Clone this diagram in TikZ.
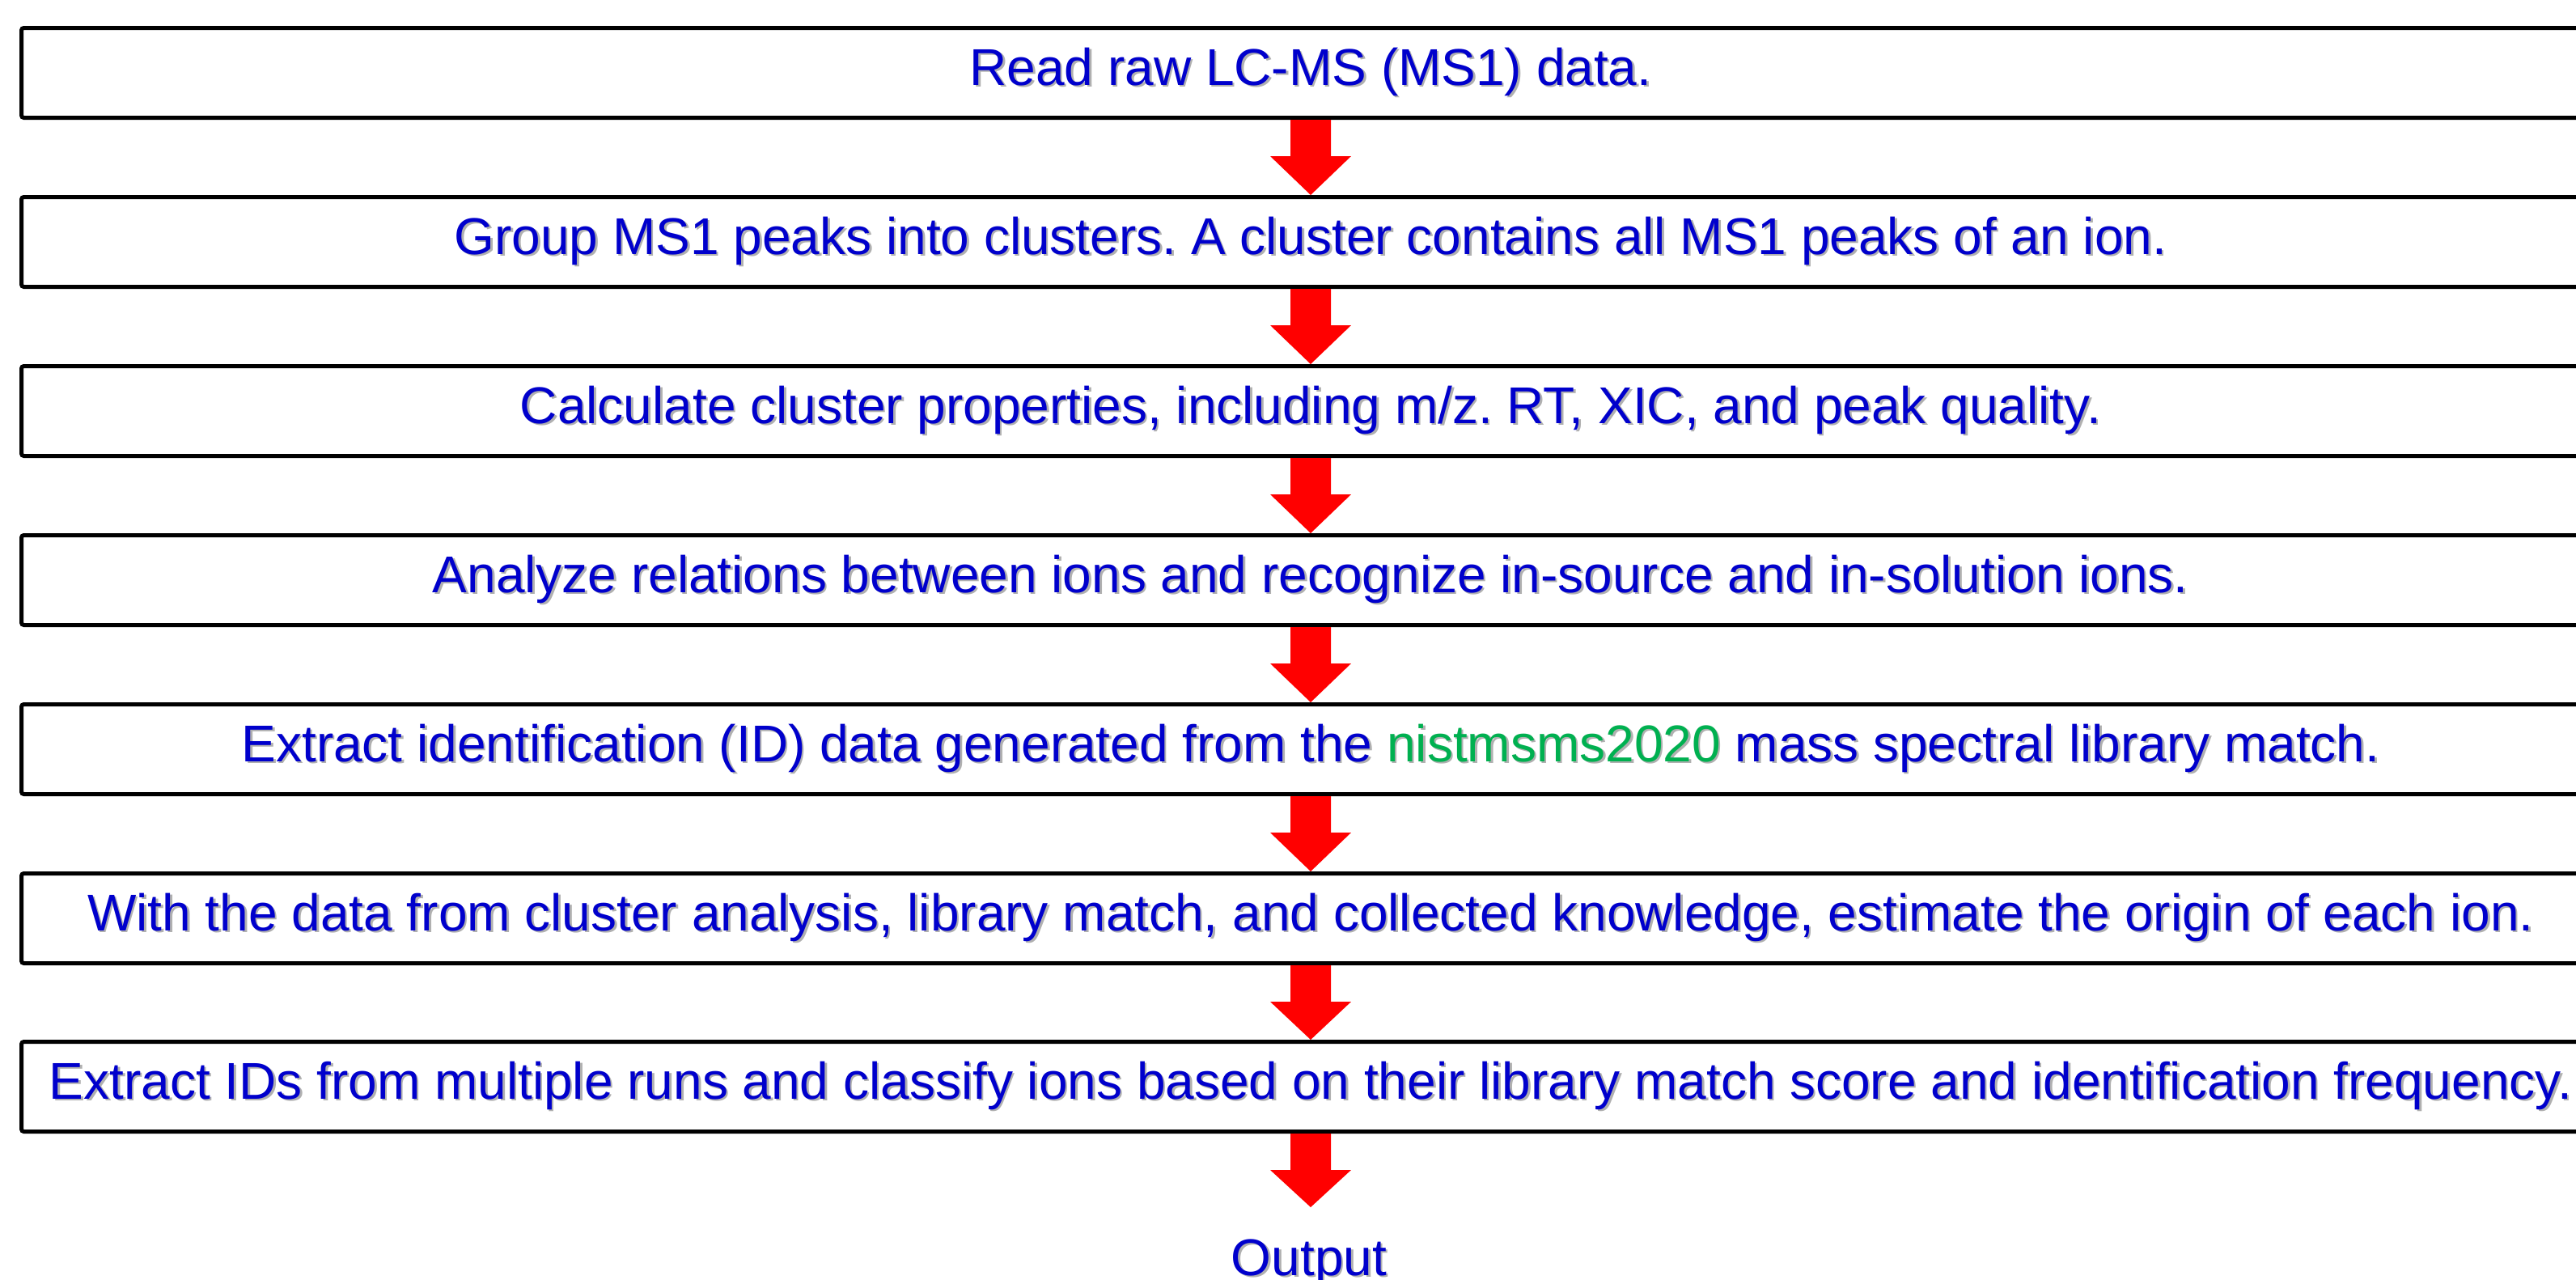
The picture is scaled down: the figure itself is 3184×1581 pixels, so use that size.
\documentclass[tikz,border=0pt]{standalone}
\usepackage{fontspec}
\setmainfont{Liberation Sans}
\usetikzlibrary{calc}
\frenchspacing
\definecolor{txt}{HTML}{0000CC}
\definecolor{grn}{HTML}{00B050}
\definecolor{shad}{HTML}{B0B0B0}
\definecolor{arr}{HTML}{FF0000}
\newcommand\hl[1]{\textcolor{hlc}{#1}}
\newcommand\stext[1]{\rlap{\kern1.3pt\raisebox{-1.3pt}{\colorlet{hlc}{shad}\color{shad}#1}}{\colorlet{hlc}{grn}\color{txt}#1}}
\newcommand\blockarrow[2]{%
  \fill[arr] ($(#1.south)+(-25,0)$) -- ($(#1.south)+(25,0)$) -- ($(#1.south)+(25,45)$) -- ($(#1.south)+(50,45)$)
    -- (#2) -- ($(#1.south)+(-50,45)$) -- ($(#1.south)+(-25,45)$) -- cycle;}
\begin{document}
\begin{tikzpicture}[x=0.5pt,y=-0.5pt,
  stepbox/.style={draw=black, line width=2.5pt, rounded corners=1.5pt, inner sep=0pt,
    minimum width=1593.5pt, minimum height=55.5pt, font=\fontsize{32pt}{38pt}\selectfont},
  outtext/.style={inner sep=0pt, anchor=base, font=\fontsize{32pt}{38pt}\selectfont}]
\useasboundingbox (0,0) rectangle (3184,1581);
\node[stepbox] (b1) at (1620,90) {\stext{Read raw LC-MS (MS1) data.}};
\node[stepbox] (b2) at (1620,299) {\stext{Group MS1 peaks into clusters. A cluster contains all MS1 peaks of an ion.}};
\node[stepbox] (b3) at (1620,508) {\stext{Calculate cluster properties, including m/z. RT, XIC, and peak quality.}};
\node[stepbox] (b4) at (1620,717) {\stext{Analyze relations between ions and recognize in-source and in-solution ions.}};
\node[stepbox] (b5) at (1620,926) {\stext{Extract identification (ID) data generated from the \hl{nistmsms2020} mass spectral library match.}};
\node[stepbox] (b6) at (1620,1135) {\stext{With the data from cluster analysis, library match, and collected knowledge, estimate the origin of each ion.}};
\node[stepbox] (b7) at (1620,1343) {\stext{Extract IDs from multiple runs and classify ions based on their library match score and identification frequency.}};
\node[outtext] (out) at (1618,1576) {\stext{Output}};
\coordinate (outtip) at (1620,1492);
\blockarrow{b1}{b2.north}
\blockarrow{b2}{b3.north}
\blockarrow{b3}{b4.north}
\blockarrow{b4}{b5.north}
\blockarrow{b5}{b6.north}
\blockarrow{b6}{b7.north}
\blockarrow{b7}{outtip}
\end{tikzpicture}
\end{document}
